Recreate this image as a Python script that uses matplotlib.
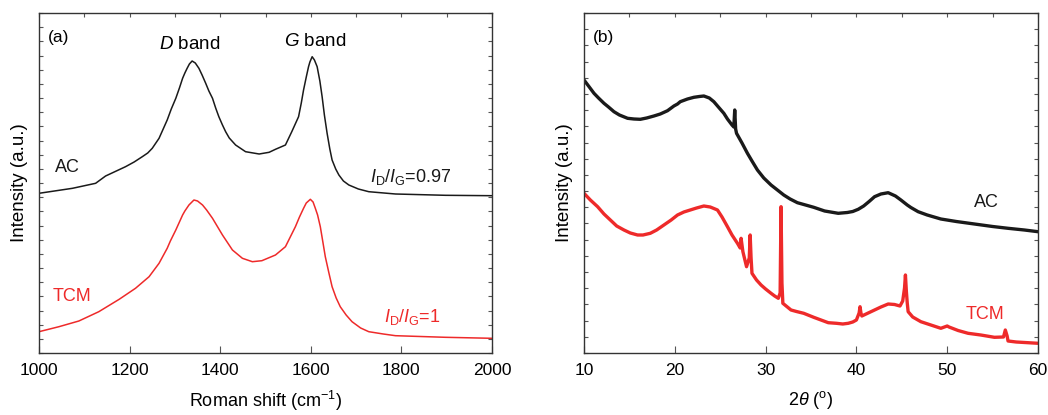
import matplotlib
matplotlib.use("Agg")
import matplotlib.pyplot as plt
import numpy as np
from matplotlib.ticker import MultipleLocator, FixedLocator

plt.rcParams['font.family'] = ['Liberation Sans', 'DejaVu Sans']
plt.rcParams['mathtext.fontset'] = 'custom'
plt.rcParams['mathtext.rm'] = 'Liberation Sans'
plt.rcParams['mathtext.it'] = 'Liberation Sans:italic'
plt.rcParams['mathtext.bf'] = 'Liberation Sans:bold'

# ---------------- data: Raman (panel a) ----------------
raman_ac_x = [1000, 1074, 1125, 1147, 1191, 1210, 1228, 1240, 1250, 1265, 1283, 1292, 1302, 1310,
              1317, 1322, 1327, 1332, 1338, 1345, 1353, 1360, 1368, 1375, 1383, 1390, 1397, 1405,
              1412, 1420, 1434, 1456, 1486, 1508, 1522, 1544, 1558, 1573, 1579, 1584, 1590, 1595,
              1598, 1603, 1608, 1614, 1620, 1625, 1630, 1636, 1642, 1647, 1655, 1662, 1672, 1684,
              1705, 1728, 1787, 1897, 2000]
raman_ac_y = [159.7, 164.7, 169.7, 177, 186.3, 191, 196.3, 200, 204.7, 214.7, 233, 244, 254.7, 265,
              274.7, 280, 284.7, 289, 292, 290, 284.7, 278, 269.7, 262, 254.7, 245, 236.3, 228,
              221.3, 215, 208, 201.3, 199, 200.7, 203.7, 208, 221.3, 236.3, 250, 263, 276, 286.3,
              291, 296.3, 293, 286.3, 272, 256.3, 238, 219.7, 204, 193, 184, 178, 172, 168,
              164, 161.3, 159, 157.7, 157.3]

raman_tcm_x = [1000, 1044, 1088, 1132, 1177, 1213, 1243, 1265, 1283, 1290, 1302, 1310, 1317, 1322,
               1331, 1342, 1350, 1361, 1370, 1383, 1405, 1427, 1449, 1471, 1492, 1522, 1544, 1566,
               1575, 1584, 1590, 1599, 1605, 1610, 1615, 1621, 1627, 1632, 1640, 1647, 1656, 1665,
               1678, 1691, 1710, 1728, 1760, 1787, 1897, 2000]
raman_tcm_y = [21.3, 26.3, 32, 41.3, 53.7, 64.7, 76.3, 89.7, 104.7, 112, 123, 131, 138, 142,
               148, 153, 152, 148, 143, 134.7, 118, 103, 94.7, 91.3, 92.3, 98, 106.3, 126.3,
               136, 144.7, 150, 153.7, 151, 144.7, 138, 126.3, 110, 96.3, 80, 66.3, 55, 46.3,
               38, 31.3, 25, 21.3, 19, 17.3, 15.7, 14.7]

# ---------------- data: XRD (panel b) ----------------
xrd_ac_x = [10.0, 10.5, 11.1, 11.6, 12.2, 12.7, 13.3, 13.9, 14.8, 15.5, 16.2, 16.9, 17.7, 18.4,
            19.2, 19.9, 20.3, 20.6, 21.4, 22.1, 22.7, 23.2, 23.8, 24.3, 24.8, 25.4, 25.8, 26.3,
            26.5, 26.6, 26.7, 26.8, 27.4, 28.0, 28.5, 29.1, 29.8, 30.6, 31.3, 32.0, 32.7, 33.5,
            34.4, 35.3, 36.5, 38.0, 39.0, 39.6, 40.2, 40.8, 41.4, 42.0, 42.7, 43.5, 44.3, 44.9,
            45.6, 46.0, 46.8, 47.8, 49.3, 51.0, 53.0, 55.0, 56.7, 58.5, 60.0]
xrd_ac_y = [273, 267, 259.7, 255, 249.7, 246, 241.3, 238, 234.7, 234, 233.7, 235, 237, 239,
            242.3, 247, 249, 251.3, 254, 255.7, 256.5, 257, 255, 251.3, 246, 239.7, 234, 228,
            226, 243, 224, 219.7, 210, 199.7, 192, 183, 175, 168, 163, 158, 154, 150.3,
            148, 145.7, 142, 139.7, 140.5, 141.5, 143.7, 147, 151.5, 156.3, 159, 160.3, 157, 153,
            148, 145.5, 141.3, 138, 134, 131.5, 129, 126.5, 124.7, 123, 121.3]

xrd_tcm_x = [10.0, 10.7, 11.5, 12.2, 12.9, 13.6, 14.4, 15.1, 15.9, 16.5, 17.3, 18.0, 18.8, 19.6,
             20.3, 21.0, 21.7, 22.4, 23.2, 23.9, 24.7, 25.2, 25.8, 26.3, 26.9, 27.2, 27.3, 27.4,
             27.5, 27.9, 28.2, 28.3, 28.4, 28.5, 29.0, 29.5, 30.0, 30.6, 31.0, 31.4, 31.6, 31.7,
             31.8, 31.9, 32.8, 33.4, 34.2, 35.3, 36.9, 37.8, 38.5, 39.1, 39.6, 40.0, 40.3, 40.4,
             40.5, 40.6, 41.3, 42.0, 42.7, 43.5, 44.2, 44.8, 45.1, 45.3, 45.4, 45.5, 45.6, 45.7,
             46.2, 47.1, 48.2, 49.3, 50.0, 50.2, 51.2, 52.3, 53.7, 55.2, 56.2, 56.4, 56.6, 56.7,
             57.6, 60.0]
xrd_tcm_y = [159.7, 153, 146.3, 139, 133, 127, 123, 120, 118, 118, 119.7, 123, 128, 133,
             138, 141, 143, 145, 147, 146, 143, 136, 126.3, 118, 109.7, 105, 114.7, 108,
             101.3, 86.3, 95, 118, 95, 79.7, 73, 68, 64, 59.7, 57, 54.7, 60, 146.3,
             70, 49.7, 43, 41.5, 39.7, 35.7, 30.3, 29.7, 29, 29.7, 31, 33, 40, 46.3,
             40, 37, 40, 43, 46, 49, 48.5, 47, 52, 65, 78, 62, 50, 41.3,
             36, 31.3, 28, 24.7, 27, 26, 22.5, 19.7, 18, 15.7, 16, 23, 17, 12,
             11, 9.7]

BLACK = '#1a1a1a'
RED = '#ee2a2a'
FS = 12.5

fig = plt.figure(figsize=(10.48, 4.15), dpi=100)
axa = fig.add_axes([39/1048, 1-353/415, (492-39)/1048, 340/415])
axb = fig.add_axes([584/1048, 1-353/415, (1038-584)/1048, 340/415])

def style(ax, yticks):
    for s in ax.spines.values():
        s.set_linewidth(1.0)
        s.set_color('#333333')
    ax.tick_params(axis='both', which='both', direction='in', color='#555555', width=0.8)
    ax.tick_params(axis='x', which='major', length=5, labelsize=FS, pad=7, top=False)
    ax.yaxis.set_major_locator(FixedLocator(yticks))
    ax.tick_params(axis='y', which='major', length=3, left=True, right=True, labelleft=False)
    ax.set_ylim(0, 340)

# panel a
axa.plot(raman_ac_x, raman_ac_y, color=BLACK, lw=1.1)
axa.plot(raman_tcm_x, raman_tcm_y, color=RED, lw=1.1)
axa.set_xlim(1000, 2000)
axa.xaxis.set_major_locator(MultipleLocator(200))
style(axa, np.linspace(0, 340, 25))
sec = axa.secondary_xaxis('top')
sec.xaxis.set_major_locator(MultipleLocator(100))
sec.tick_params(direction='in', length=3, labeltop=False, color='#555555', width=0.8)
sec.spines['top'].set_visible(False)
axa.set_xlabel('Roman shift (cm$^{-1}$)', fontsize=13, labelpad=8)
axa.set_ylabel('Intensity (a.u.)', fontsize=13.5, labelpad=8)
axa.text(0.02, 0.95, '(a)', transform=axa.transAxes, fontsize=FS, va='top', ha='left')
axa.text(1333, 300, r'$\mathit{D}$ band', fontsize=13.5, ha='center', va='bottom')
axa.text(1610, 303, r'$\mathit{G}$ band', fontsize=13.5, ha='center', va='bottom')
axa.text(1035, 186, 'AC', fontsize=13, ha='left', va='center', color=BLACK)
axa.text(1730, 176, r'$\mathit{I}_{\mathrm{D}}/\mathit{I}_{\mathrm{G}}$=0.97', fontsize=13,
         ha='left', va='center', color=BLACK)
axa.text(1030, 57, 'TCM', fontsize=13, ha='left', va='center', color=RED)
axa.text(1762, 36, r'$\mathit{I}_{\mathrm{D}}/\mathit{I}_{\mathrm{G}}$=1', fontsize=13,
         ha='left', va='center', color=RED)

# panel b
axb.plot(xrd_ac_x, xrd_ac_y, color=BLACK, lw=2.4)
axb.plot(xrd_tcm_x, xrd_tcm_y, color=RED, lw=2.4)
axb.set_xlim(10, 60)
axb.xaxis.set_major_locator(MultipleLocator(10))
style(axb, np.linspace(0, 340, 22))
secb = axb.secondary_xaxis('top')
secb.xaxis.set_major_locator(MultipleLocator(5))
secb.tick_params(direction='in', length=3, labeltop=False, color='#555555', width=0.8)
secb.spines['top'].set_visible(False)
axb.set_xlabel(r'2$\mathit{\theta}$ ($^{\mathrm{o}}$)', fontsize=13, labelpad=8)
axb.set_ylabel('Intensity (a.u.)', fontsize=13.5, labelpad=8)
axb.text(0.02, 0.95, '(b)', transform=axb.transAxes, fontsize=FS, va='top', ha='left')
axb.text(52.9, 151, 'AC', fontsize=13, ha='left', va='center', color=BLACK)
axb.text(52.0, 39, 'TCM', fontsize=13, ha='left', va='center', color=RED)

fig.savefig('out.png', dpi=100)
